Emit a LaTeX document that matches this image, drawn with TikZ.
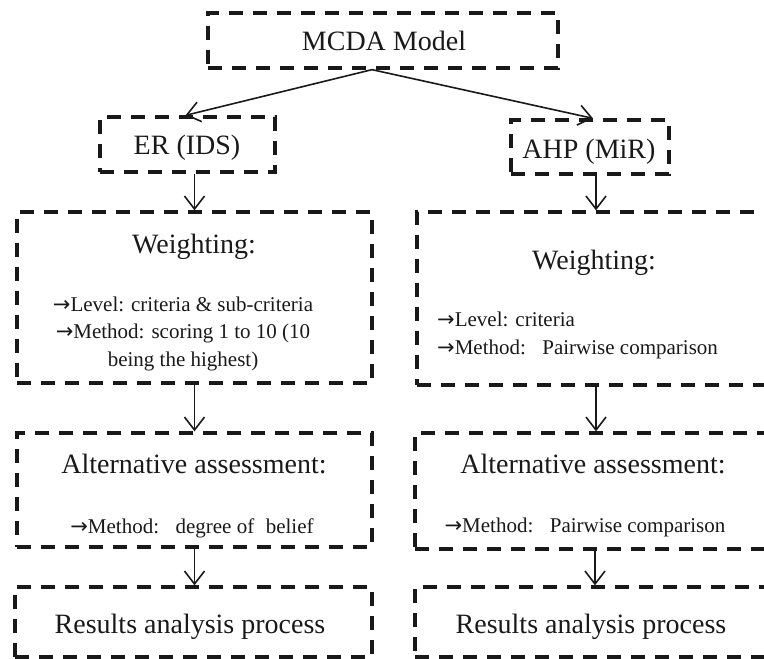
\documentclass[tikz,border=0pt]{standalone}
\usepackage{fontspec}
\setmainfont{Liberation Serif}
\newfontfamily\arrowfont{DejaVu Sans}
\newcommand{\rarr}{{\arrowfont →}}
\usetikzlibrary{arrows.meta}
\begin{document}
\begin{tikzpicture}[x=1pt,y=-1pt,
  box/.style={draw=black!90, line width=3.3pt, dash pattern=on 14pt off 10pt, inner sep=0pt},
  big/.style={font=\fontsize{28}{33}\selectfont, inner sep=0pt, anchor=base, text=black!90},
  small/.style={font=\fontsize{21}{27}\selectfont, inner sep=0pt, anchor=base, text=black!90},
  arr/.style={draw=black!90, line width=1.6pt, -{Straight Barb[length=13pt,width=20pt]}}]
\useasboundingbox (0,0) rectangle (764,659);
\clip (0,0) rectangle (764,659);
% boxes
\node[box, minimum width=350pt, minimum height=55pt] (mcda) at (383,40.5) {};
\node[box, minimum width=175pt, minimum height=55pt] (er) at (187.5,144.5) {};
\node[box, minimum width=158pt, minimum height=54pt] (ahp) at (590,147) {};
\node[box, minimum width=355pt, minimum height=171pt] (wl) at (194.5,297.5) {};
\node[box, minimum width=358pt, minimum height=173pt] (wr) at (596,298.5) {};
\node[box, minimum width=355pt, minimum height=114pt] (al) at (194.5,490) {};
\node[box, minimum width=360pt, minimum height=116pt] (ar) at (595,491) {};
\node[box, minimum width=357pt, minimum height=70pt] (rl) at (193.5,622) {};
\node[box, minimum width=360pt, minimum height=70pt] (rr) at (595,622) {};
% texts
\node[big] (tmcda) at (384,50) {MCDA Model};
\node[big] (ter) at (187,154) {ER (IDS)};
\node[big] (tahp) at (589,158) {AHP (MiR)};
\node[big] (twl) at (194,253) {Weighting:};
\node[small] (twl1) at (183,311) {\rarr Level: criteria \& sub-criteria};
\node[small] (twl2) at (183,338) {\rarr Method: scoring 1 to 10 (10};
\node[small] (twl3) at (183,366) {being the highest)};
\node[big] (twr) at (594,269) {Weighting:};
\node[small, anchor=base west] (twr1) at (437,326) {\rarr Level: criteria};
\node[small, anchor=base west] (twr2) at (437,354) {\rarr Method:\hspace{0.45em} Pairwise comparison};
\node[big] (tal) at (194,473) {Alternative assessment:};
\node[small] (tal1) at (192,533) {\rarr Method:\hspace{0.45em} degree of\hspace{0.3em} belief};
\node[big] (tar) at (593,473) {Alternative assessment:};
\node[small] (tar1) at (585,532) {\rarr Method:\hspace{0.45em} Pairwise comparison};
\node[big] (trl) at (190,633) {Results analysis process};
\node[big] (trr) at (591,633) {Results analysis process};
% connectors
\draw[arr] ([xshift=-11pt]mcda.south) -- ([xshift=-2pt]er.north);
\draw[arr] ([xshift=-11pt]mcda.south) -- ([xshift=3pt]ahp.north);
\draw[arr] (er.south -| wl.north) -- (wl.north);
\draw[arr] ([xshift=6pt]ahp.south) -- ([xshift=6pt]ahp.south |- wr.north);
\draw[arr] (wl.south) -- (al.north);
\draw[arr] (wr.south) -- (ar.north -| wr.south);
\draw[arr] (al.south) -- (rl.north -| al.south);
\draw[arr] (ar.south) -- (rr.north -| ar.south);
\end{tikzpicture}
\end{document}
